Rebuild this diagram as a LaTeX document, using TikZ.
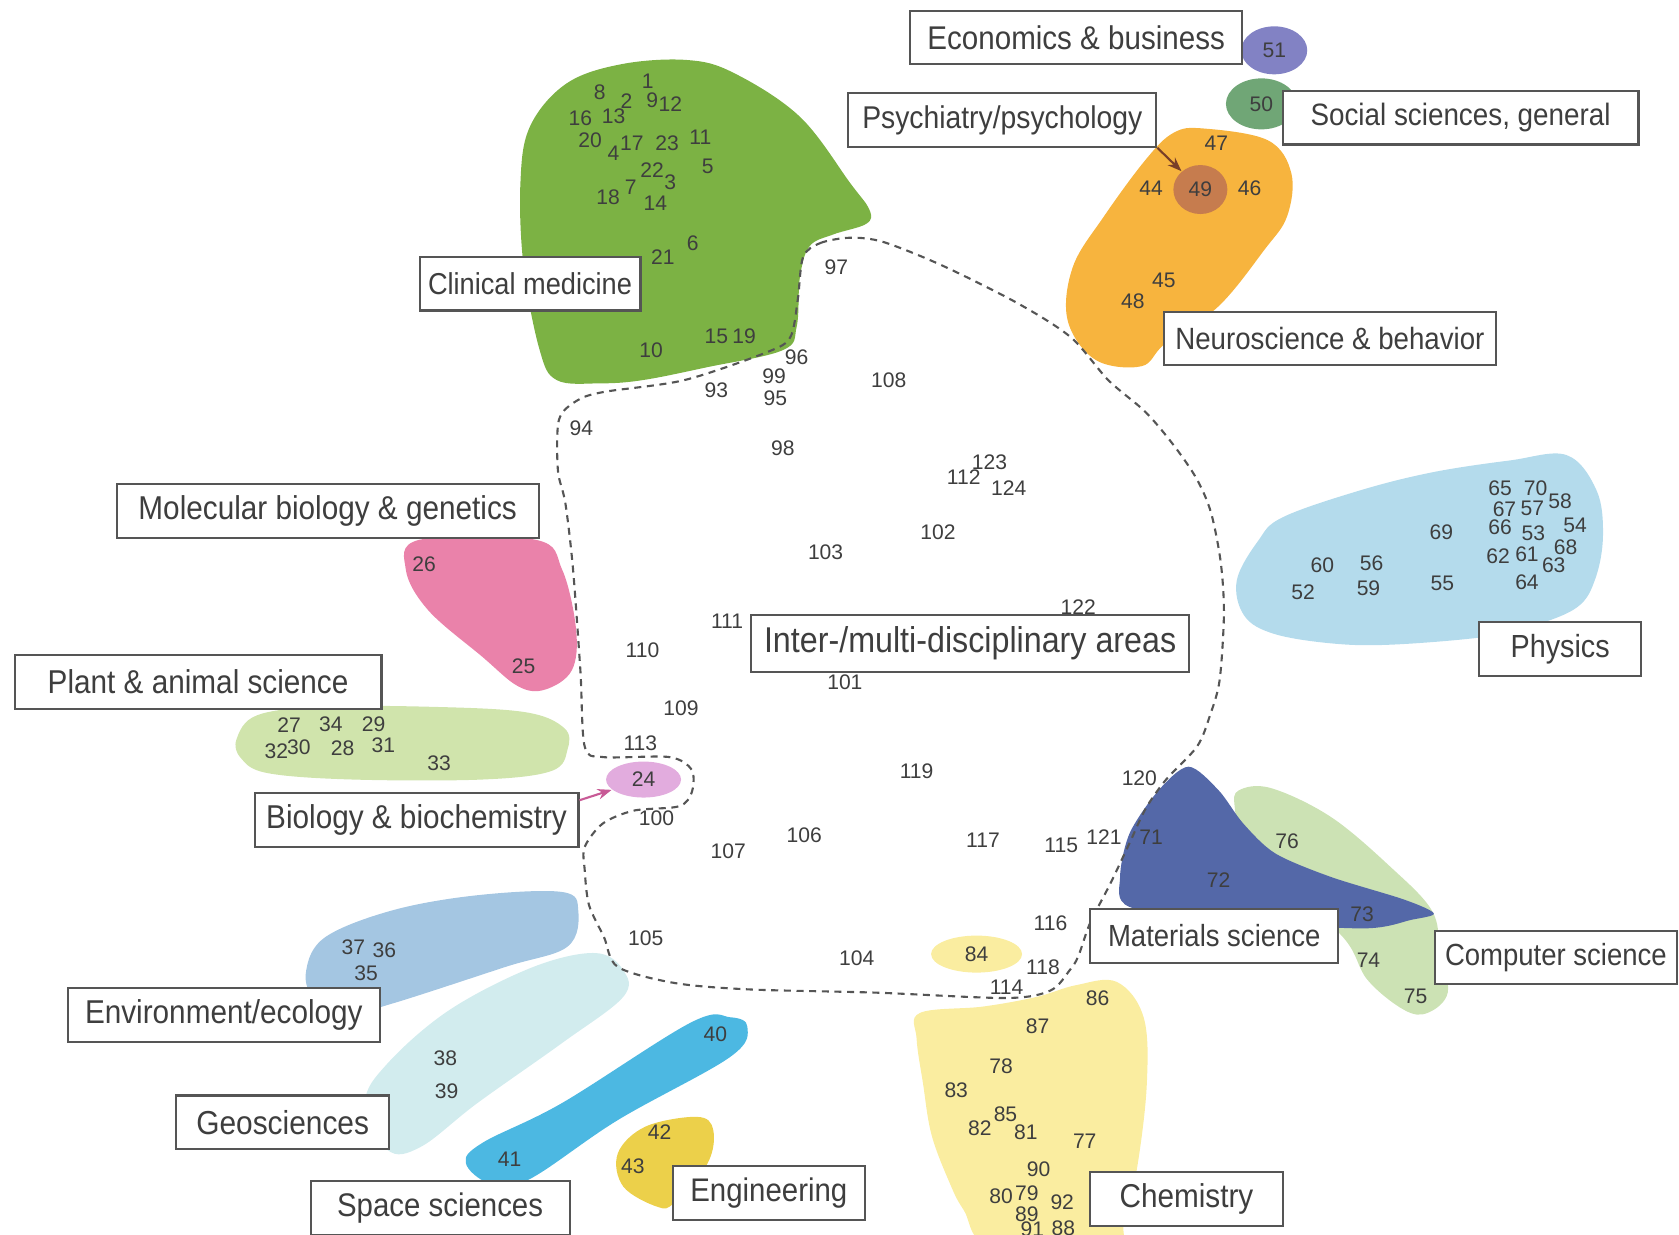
\documentclass[tikz,border=0pt]{standalone}
\usepackage{fontspec}
\setmainfont{Liberation Sans}
\newfontfamily\labelfont{Liberation Sans}[FakeStretch=0.9]
\usetikzlibrary{positioning,shapes.geometric,arrows.meta}

\definecolor{numgray}{RGB}{62,62,62}
\definecolor{boxgray}{RGB}{85,85,85}
\definecolor{clinfill}{RGB}{124,178,68}
\definecolor{neurofill}{RGB}{247,180,62}
\definecolor{psyfill}{RGB}{198,124,78}
\definecolor{econfill}{RGB}{130,130,196}
\definecolor{socfill}{RGB}{112,166,118}
\definecolor{physfill}{RGB}{180,219,236}
\definecolor{molfill}{RGB}{234,130,170}
\definecolor{plantfill}{RGB}{208,228,172}
\definecolor{biofill}{RGB}{226,172,222}
\definecolor{matfill}{RGB}{84,104,168}
\definecolor{compfill}{RGB}{204,226,180}
\definecolor{chemfill}{RGB}{250,237,160}
\definecolor{engfill}{RGB}{236,208,74}
\definecolor{spacefill}{RGB}{76,184,226}
\definecolor{geofill}{RGB}{210,236,238}
\definecolor{envfill}{RGB}{164,198,226}
\definecolor{psyarrow}{RGB}{120,62,40}
\definecolor{bioarrow}{RGB}{200,90,150}

\tikzset{
  num/.style={inner sep=0.5pt, text=numgray, font=\fontsize{6}{7}\selectfont},
  spot/.style={ellipse, inner sep=0pt, text=numgray, font=\fontsize{6}{7}\selectfont},
  field/.style={draw=boxgray, line width=0.6pt, fill=white, text=numgray,
    font=\labelfont\fontsize{#1}{10}\selectfont, minimum height=0.535cm, inner xsep=2pt},
  field/.default=8.8,
  region/.style={smooth cycle, tension=0.6},
  pointer/.style={-{Stealth[length=4pt,width=3pt]}, line width=0.6pt},
}

\begin{document}
\begin{tikzpicture}[x=0.010708cm, y=-0.010708cm]
\useasboundingbox (0,0) rectangle (1568,1153);

% subject regions
\fill[clinfill] plot[region] coordinates {(641,56) (685,68) (747,109) (794,171) (812,196) (809,209) (778,219) (756,230) (747,259) (744,305) (731,327) (660,343) (600,355) (560,358) (520,355) (504,327) (489,249) (486,171) (495,118) (529,78) (580,60)};
\fill[neurofill] plot[region] coordinates {(1124,120) (1184,131) (1206,162) (1202,202) (1181,233) (1138,286) (1088,321) (1066,342) (1023,336) (997,299) (1002,249) (1031,202) (1070,149) (1096,124)};
\fill[physfill] plot[region] coordinates {(1155,542) (1175,505) (1198,483) (1270,458) (1338,441) (1410,430) (1463,425) (1491,458) (1497,500) (1490,540) (1473,567) (1430,585) (1385,595) (1300,602) (1245,601) (1190,592) (1162,575)};
\fill[molfill] plot[region] coordinates {(392,504) (500,504) (525,532) (538,588) (534,626) (509,644) (484,641) (450,613) (400,570) (379,532)};
\fill[plantfill] plot[region] coordinates {(221,690) (240,668) (300,660) (400,660) (490,665) (527,680) (530,700) (515,720) (450,728) (330,728) (250,722) (225,708)};
\fill[envfill] plot[region] coordinates {(525,833) (540,850) (530,884) (472,903) (367,937) (336,943) (294,931) (286,906) (304,875) (367,850) (446,836)};
\fill[geofill] plot[region] coordinates {(556,890) (582,906) (582,931) (525,974) (446,1030) (393,1071) (362,1074) (341,1030) (362,993) (420,943) (498,903)};
\fill[spacefill] plot[region] coordinates {(682,950) (698,959) (682,987) (577,1046) (493,1102) (457,1105) (435,1086) (451,1067) (525,1030) (645,955)};
\fill[engfill] plot[region] coordinates {(651,1043) (666,1055) (661,1086) (630,1123) (614,1127) (582,1108) (577,1077) (603,1052)};
\fill[compfill] plot[region] coordinates {(1157,738) (1187,736) (1243,763) (1299,810) (1337,850) (1345,887) (1352,927) (1333,946) (1311,943) (1277,915) (1254,875) (1191,819) (1161,781) (1153,753)};
\fill[matfill] plot[smooth cycle, tension=0.5] coordinates {(1110,716) (1138,738) (1161,769) (1191,797) (1243,819) (1311,840) (1339,853) (1318,859) (1273,867) (1150,860) (1055,847) (1046,819) (1055,778) (1082,738)};
\fill[chemfill] plot[region] coordinates {(859,946) (918,940) (968,931) (1005,920) (1043,917) (1068,950) (1071,1012) (1062,1090) (1050,1140) (1037,1165) (927,1165) (900,1130) (887,1105) (870,1060) (862,1012) (856,970)};

% inter-/multi-disciplinary boundary
\draw[boxgray, line width=0.6pt, dash pattern=on 2pt off 1.6pt] plot[smooth cycle, tension=0.5] coordinates {(750,240) (766,227) (794,222) (825,226) (880,248) (950,283) (1000,315) (1035,355) (1070,385) (1097,417) (1118,448) (1131,479) (1140,525) (1143,573) (1139,635) (1130,668) (1118,697) (1089,728) (1070,755) (1055,787) (1037,825) (1018,862) (1007,893) (999,906) (981,925) (940,932) (818,927) (700,924) (630,918) (577,903) (564,875) (550,845) (546,812) (546,791) (563,769) (592,757) (634,753) (646,740) (646,719) (625,707) (563,707) (546,697) (542,626) (535,530) (528,470) (521,439) (522,392) (539,374) (564,366) (639,355) (716,329) (738,315) (745,280)};

% small spots
\node[spot, fill=econfill, minimum width=0.66cm, minimum height=0.48cm] (n51) at (1190,47) {51};
\node[spot, fill=socfill, minimum width=0.71cm, minimum height=0.51cm] (n50) at (1178,97) {50};
\node[spot, fill=psyfill, minimum width=0.54cm, minimum height=0.49cm] (n49) at (1121,177) {49};
\node[spot, fill=biofill, minimum width=0.75cm, minimum height=0.36cm] (n24) at (601,728) {24};
\node[spot, fill=chemfill, minimum width=0.91cm, minimum height=0.37cm] (n84) at (912,891) {84};

% journal numbers
\foreach \n/\x/\y in {1/605/76, 8/560/86, 2/585/94, 9/609/94, 12/626/97, 16/542/110, 13/573/109,
    20/551/131, 4/573/143, 17/590/134, 23/623/134, 11/654/128, 5/661/155, 22/609/159, 3/626/170,
    7/589/175, 18/568/184, 14/612/190, 6/647/227, 21/619/240, 15/669/314, 19/695/314, 10/608/327,
    25/489/622, 26/396/527,
    27/270/677, 34/309/676, 29/349/676, 32/258/702, 30/279/698, 28/320/699, 31/358/696, 33/410/713,
    37/330/885, 36/359/887, 35/342/909, 38/416/988, 39/417/1019,
    40/668/966, 41/476/1083, 42/616/1057, 43/591/1089,
    44/1075/176, 45/1087/262, 46/1167/176, 47/1136/134, 48/1058/281,
    52/1217/553, 53/1432/498, 54/1471/491, 55/1347/545, 56/1281/526, 57/1431/475, 58/1457/468,
    59/1278/549, 60/1235/528, 61/1426/518, 62/1399/519, 63/1451/528, 64/1426/544, 65/1401/456,
    66/1401/492, 67/1405/476, 68/1462/511, 69/1346/497, 70/1434/456,
    71/1075/782, 72/1138/822, 73/1272/854, 74/1278/897, 75/1322/930, 76/1202/786,
    77/1013/1066, 78/935/996, 79/959/1114, 80/935/1117, 81/958/1057, 82/915/1054, 83/893/1018,
    85/939/1041, 86/1025/932, 87/969/958, 88/993/1147, 89/959/1134, 90/970/1092, 91/964/1148,
    92/992/1123,
    93/669/364, 94/543/400, 95/724/372, 96/744/334, 97/781/250, 98/731/419, 99/723/351,
    100/613/764, 101/789/637, 102/876/497, 103/771/516, 104/800/895, 105/603/876, 106/751/780,
    107/680/795, 108/830/355, 109/636/661, 110/600/607, 111/679/580, 112/900/446, 113/598/694,
    114/940/922, 115/991/789, 116/981/862, 117/918/785, 118/974/903, 119/856/720, 120/1064/727,
    121/1031/782, 122/1007/567, 123/924/432, 124/942/456} {
    \node[num] (n\n) at (\x,\y) {\n};
}

% field labels
\node[field=9.35, minimum width=3.32cm] (econ) at (1005,35) {Economics \& business};
\node[field=8.95, minimum width=3.08cm] (psych) at (936,112) {Psychiatry/psychology};
\node[field=8.8, minimum width=3.56cm] (social) at (1364,110) {Social sciences, general};
\node[field=8.75, minimum width=3.32cm] (neuro) at (1242,316) {Neuroscience \& behavior};
\node[field=8.6, minimum width=2.21cm] (clinical) at (495,265) {Clinical medicine};
\node[field=9.4, minimum width=4.22cm] (molbio) at (306,477) {Molecular biology \& genetics};
\node[field=9.1, minimum width=1.62cm] (physics) at (1457,606) {Physics};
\node[field=10.2, minimum width=4.38cm] (inter) at (906,601) {Inter-/multi-disciplinary areas};
\node[field=9.4, minimum width=3.67cm] (plant) at (185,637) {Plant \& animal science};
\node[field=9.4, minimum width=3.24cm] (bio) at (389,766) {Biology \& biochemistry};
\node[field=8.7, minimum width=2.48cm] (materials) at (1134,874) {Materials science};
\node[field=8.7, minimum width=2.42cm] (compsci) at (1453,894) {Computer science};
\node[field=9.4, minimum width=3.12cm] (environ) at (209,948) {Environment/ecology};
\node[field=9.45, minimum width=2.13cm] (geo) at (264,1048) {Geosciences};
\node[field=9.3, minimum width=2.59cm] (space) at (411,1128) {Space sciences};
\node[field=9.3, minimum width=1.92cm] (engineering) at (718,1114) {Engineering};
\node[field=9.4, minimum width=1.93cm] (chemistry) at (1108,1120) {Chemistry};

\draw[pointer, psyarrow] (psych.south east) -- (n49);
\draw[pointer, bioarrow] (bio.7) -- (n24);
\end{tikzpicture}
\end{document}
